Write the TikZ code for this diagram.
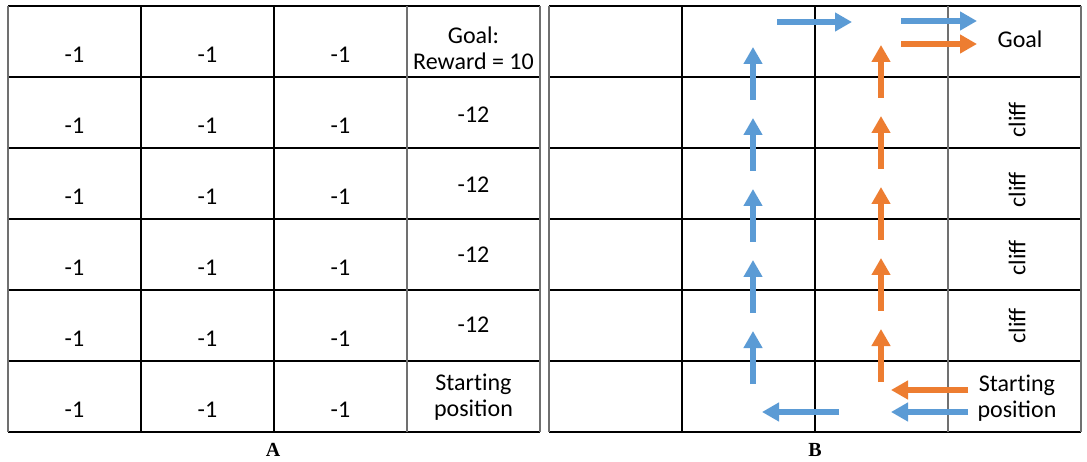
\documentclass[tikz,border=0pt]{standalone}
\usepackage{fontspec}
\setmainfont{Carlito}
\newfontfamily\labelfont{Liberation Serif}
\usetikzlibrary{arrows.meta}
\definecolor{arrblue}{HTML}{5B9BD5}
\definecolor{arrorange}{HTML}{ED7D31}
\definecolor{edgegray}{HTML}{707070}
\tikzset{
  txt/.style={inner sep=0pt, font=\fontsize{24}{26}\selectfont, align=center},
  gridlabel/.style={inner sep=0pt, font=\labelfont\bfseries\fontsize{20}{24}\selectfont},
  gridline/.style={line width=1.2pt, black},
  edgeline/.style={line width=1.6pt, edgegray},
  mv/.style={line width=6pt, -{Triangle[length=17pt,width=18pt]}},
  bluearr/.style={mv, arrblue},
  orangearr/.style={mv, arrorange}
}
\begin{document}
\begin{tikzpicture}[x=1pt,y=-1pt]
\useasboundingbox (0,0) rectangle (1087,462);
\fill[white] (0,0) rectangle (1087,462);
% grids
\foreach \gx in {8,549}{
  \foreach \r in {0,...,6}{
    \draw[gridline] (\gx,6+71*\r) -- ++(532,0);
  }
  \foreach \c in {1,2}{
    \draw[gridline] (\gx+133*\c,6) -- (\gx+133*\c,432);
  }
  \draw[edgeline] (\gx,6) -- (\gx,432);
  \draw[edgeline] (\gx+399,6) -- (\gx+399,432);
  \draw[edgeline] (\gx+532,6) -- (\gx+532,432);
}
% grid A texts
\foreach \c/\xc in {1/74.5,2/207.5,3/340.5}{
  \foreach \r in {0,...,5}{
    \node[txt] (a-\r-\c) at (\xc,55+71*\r) {-1};
  }
}
\node[txt] (goalA) at (473.5,48.5) {\fontsize{24}{25}\selectfont Goal:\\Reward = 10};
\node[txt] (a-1-4) at (473.5,115) {-12};
\node[txt] (a-2-4) at (473.5,185) {-12};
\node[txt] (a-3-4) at (473.5,255) {-12};
\node[txt] (a-4-4) at (473.5,325) {-12};
\node[txt] (startA) at (473.5,397) {\fontsize{24}{28}\selectfont Start\kern0pt ing\\position};
\node[gridlabel] (labA) at (273,450) {A};
% grid B texts
\node[txt] (goalB) at (1020,39) {Goal};
\foreach \r/\yc in {1/120,2/190,3/258,4/326}{
  \node[txt, rotate=90] (cliff\r) at (1017,\yc) {cliff};
}
\node[txt] (startB) at (1017,398) {\fontsize{24}{28}\selectfont Start\kern0pt ing\\position};
\node[gridlabel] (labB) at (815,450) {B};
% arrow endpoints
\foreach \i in {0,...,4}{
  \coordinate (bt\i) at (753,384-71*\i);
  \coordinate (bh\i) at (753,331-71*\i);
  \coordinate (ot\i) at (881,382-71*\i);
  \coordinate (oh\i) at (881,329-71*\i);
  \draw[bluearr] (bt\i) -- (bh\i);
  \draw[orangearr] (ot\i) -- (oh\i);
}
\coordinate (b1s) at (777,22);
\coordinate (b1e) at (852,22);
\coordinate (b2s) at (901,21);
\coordinate (b2e) at (977,21);
\coordinate (o1s) at (901,44);
\coordinate (o1e) at (977,44);
\coordinate (o2s) at (968,390);
\coordinate (o2e) at (891,390);
\coordinate (b3s) at (968,412);
\coordinate (b3e) at (891,412);
\coordinate (b4s) at (839,412);
\coordinate (b4e) at (762,412);
\draw[bluearr] (b1s) -- (b1e);
\draw[bluearr] (b2s) -- (b2e);
\draw[orangearr] (o1s) -- (o1e);
\draw[orangearr] (o2s) -- (o2e);
\draw[bluearr] (b3s) -- (b3e);
\draw[bluearr] (b4s) -- (b4e);
\end{tikzpicture}
\end{document}
